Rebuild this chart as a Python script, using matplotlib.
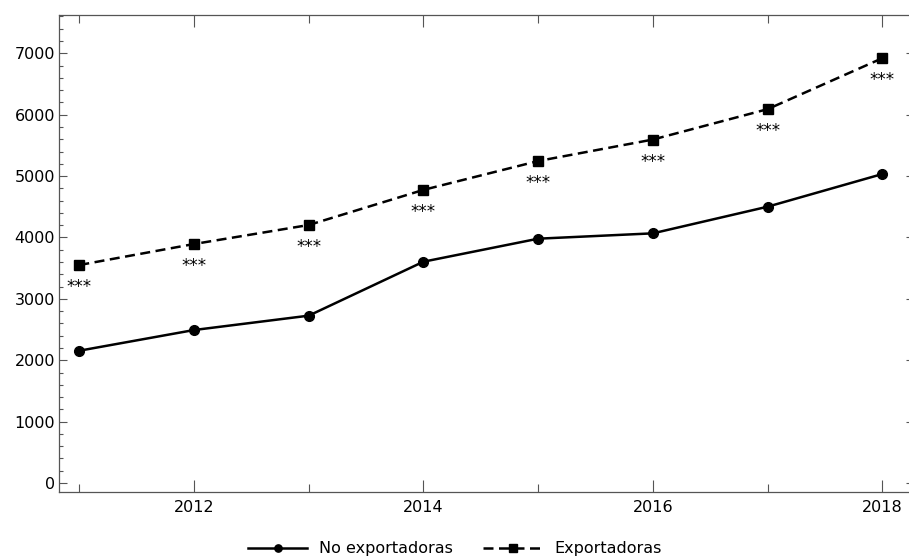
import matplotlib
matplotlib.use("Agg")
import matplotlib.pyplot as plt
from matplotlib.ticker import MultipleLocator

# Firm averages per year
years = [2011, 2012, 2013, 2014, 2015, 2016, 2017, 2018]
no_exportadoras = [2155, 2492, 2726, 3605, 3980, 4067, 4501, 5033]
exportadoras = [3551, 3893, 4203, 4775, 5245, 5595, 6090, 6920]
significance = ["***"] * 8

plt.rcParams["font.family"] = ["DejaVu Sans"]

W, H = 909, 560
fig = plt.figure(figsize=(W / 100, H / 100), dpi=100)

# frame in pixels: left spine at 59.3, right spine past the edge
x0_px, x1_px = 59.3, 914.0
y_top_px, y_bot_px = 15.0, 491.7
ax = fig.add_axes([x0_px / W, (H - y_bot_px) / H,
                   (x1_px - x0_px) / W, (y_bot_px - y_top_px) / H])

line_kw = dict(color="black", linewidth=1.8, markersize=7)
ax.plot(years, no_exportadoras, marker="o", linestyle="-",
        label="No exportadoras", **line_kw)
ax.plot(years, exportadoras, marker="s", linestyle=(0, (4, 2.2)),
        label="Exportadoras", **line_kw)

for x, y, s in zip(years, exportadoras, significance):
    ax.annotate(s, (x, y), xytext=(0, -16), textcoords="offset points",
                ha="center", va="center", fontsize=12)

# axis ranges
px_per_year = (882.3 - 79.3) / 7
ax.set_xlim(2011 - (79.3 - x0_px) / px_per_year,
            2018 + (x1_px - 882.3) / px_per_year)
px_per_unit = (483.0 - 53.3) / 7000
ax.set_ylim(-(y_bot_px - 483.0) / px_per_unit,
            7000 + (53.3 - y_top_px) / px_per_unit)

ax.xaxis.set_major_locator(MultipleLocator(2))
ax.xaxis.set_minor_locator(MultipleLocator(1))
ax.yaxis.set_major_locator(MultipleLocator(1000))
ax.yaxis.set_minor_locator(MultipleLocator(200))

frame_gray = "#555555"
for sp in ax.spines.values():
    sp.set_color(frame_gray)
    sp.set_linewidth(0.9)
ax.spines["right"].set_visible(False)

ax.tick_params(axis="x", which="both", direction="in", top=True,
               color=frame_gray, width=0.8, labelsize=11.5, pad=6)
ax.tick_params(axis="x", which="major", length=8.4)
ax.tick_params(axis="x", which="minor", length=6)
ax.tick_params(axis="y", which="both", direction="in", right=True,
               color=frame_gray, width=0.8, labelsize=11.5, pad=3)
ax.tick_params(axis="y", which="major", length=5.5)
ax.tick_params(axis="y", which="minor", length=2.9)

ax.legend(loc="center", bbox_to_anchor=(455 / W, 1 - 549 / H),
          bbox_transform=fig.transFigure, ncol=2, frameon=False,
          fontsize=11.5, handlelength=3.7, handletextpad=0.75,
          columnspacing=1.9, markerscale=0.75)

fig.savefig("out.png", dpi=100, facecolor="white")
